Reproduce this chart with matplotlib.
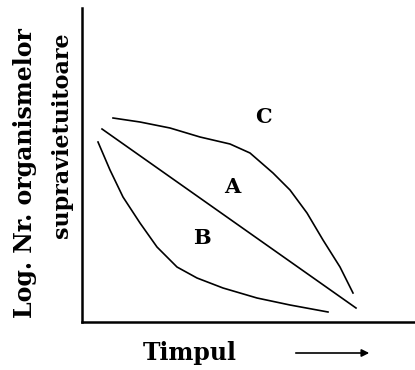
import matplotlib
matplotlib.use("Agg")
import matplotlib.pyplot as plt

# Curve data (time, log number of survivors), arbitrary units
c_time = [31, 58, 88, 118, 148, 168, 191, 208, 225, 241, 258, 271]
c_logn = [204, 200, 194, 185, 178, 169, 149, 132, 109, 82, 55, 29]
a_time = [20, 274]
a_logn = [193, 14]
b_time = [16, 28, 41, 58, 75, 95, 115, 141, 175, 208, 246]
b_logn = [180, 152, 125, 99, 75, 55, 44, 34, 24, 17, 10]
labels = ["A", "B", "C"]
label_pos = [(150, 135), (120, 84), (181, 205)]

fig = plt.figure(figsize=(4.15, 3.7), dpi=100)
ax = fig.add_axes([82/415, 48/370, 333/415, 314/370])
ax.set_xlim(0, 333)
ax.set_ylim(0, 314)
for s in ["top", "right"]:
    ax.spines[s].set_visible(False)
for s in ["left", "bottom"]:
    ax.spines[s].set_linewidth(1.8)
ax.set_xticks([])
ax.set_yticks([])

for t, n in [(c_time, c_logn), (a_time, a_logn), (b_time, b_logn)]:
    ax.plot(t, n, color="black", lw=1.2, solid_joinstyle="round")

for lab, (x, y) in zip(labels, label_pos):
    ax.text(x, y, lab, fontsize=15, fontweight="bold", family="DejaVu Serif",
            ha="center", va="center")

fig.text(25/415, 1 - 173/370, "Log. Nr. organismelor", rotation=90,
         fontsize=17, fontweight="bold", family="DejaVu Serif",
         ha="center", va="center")
fig.text(62/415, 1 - 135/370, "supravietuitoare", rotation=90,
         fontsize=16, fontweight="bold", family="DejaVu Serif",
         ha="center", va="center")
fig.text(190/415, 1 - 353/370, "Timpul", fontsize=17, fontweight="bold",
         family="DejaVu Serif", ha="center", va="center")
ax.annotate("", xy=(372/415, 1 - 353/370), xytext=(293/415, 1 - 353/370),
            xycoords="figure fraction", textcoords="figure fraction",
            arrowprops=dict(arrowstyle="-|>", color="black", lw=1.2,
                            mutation_scale=11))

fig.savefig("out.png", dpi=100)
